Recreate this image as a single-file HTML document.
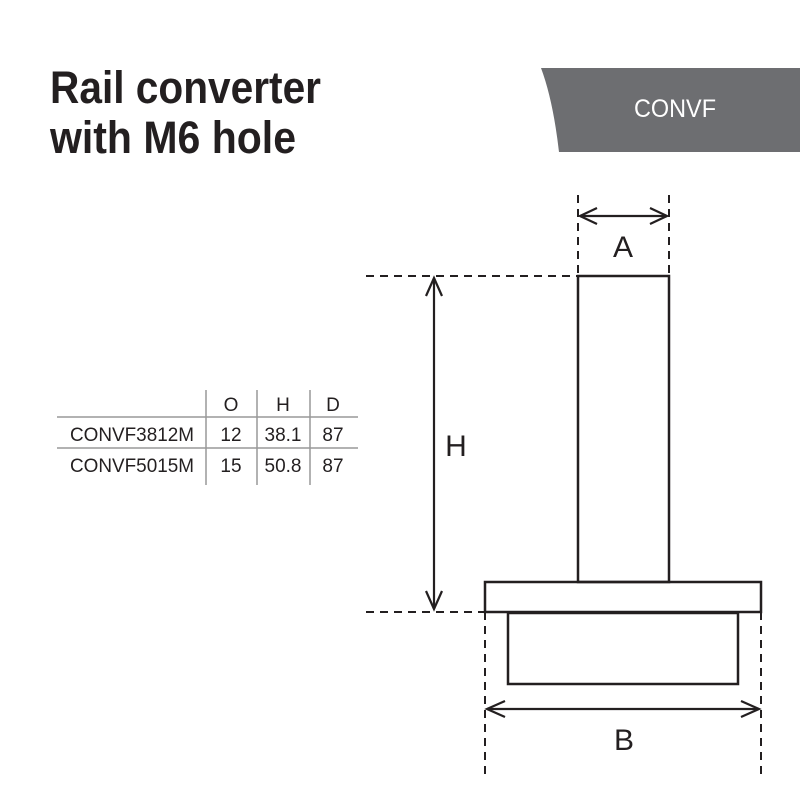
<!DOCTYPE html>
<html><head><meta charset="utf-8"><style>
html,body{margin:0;padding:0;background:#fff;}
svg{display:block;}
text{font-family:"Liberation Sans",sans-serif;}
</style></head><body>
<svg width="800" height="800" viewBox="0 0 800 800" xmlns="http://www.w3.org/2000/svg">
<text x="50" y="103" font-size="45" font-weight="bold" fill="#231f20" textLength="271" lengthAdjust="spacingAndGlyphs">Rail converter</text>
<text x="50" y="153" font-size="45" font-weight="bold" fill="#231f20" textLength="246" lengthAdjust="spacingAndGlyphs">with M6 hole</text>
<path d="M541 68 L800 68 L800 152 L559 152 Q553 100 541 68 Z" fill="#6d6e71"/>
<text x="675" y="117" font-size="25" fill="#fff" text-anchor="middle" textLength="82" lengthAdjust="spacingAndGlyphs">CONVF</text>
<!-- table -->
<g stroke="#999" stroke-width="1.5">
<line x1="57" y1="417" x2="358" y2="417"/>
<line x1="57" y1="448" x2="358" y2="448"/>
<line x1="206" y1="390" x2="206" y2="485"/>
<line x1="257" y1="390" x2="257" y2="485"/>
<line x1="310" y1="390" x2="310" y2="485"/>
</g>
<g font-size="19" fill="#231f20" text-anchor="middle">
<text x="231" y="411">O</text><text x="283" y="411">H</text><text x="333" y="411">D</text>
<text x="132" y="441" textLength="124" lengthAdjust="spacingAndGlyphs">CONVF3812M</text>
<text x="231" y="441">12</text><text x="283" y="441">38.1</text><text x="333" y="441">87</text>
<text x="132" y="472" textLength="124" lengthAdjust="spacingAndGlyphs">CONVF5015M</text>
<text x="231" y="472">15</text><text x="283" y="472">50.8</text><text x="333" y="472">87</text>
</g>
<!-- drawing -->
<g stroke="#231f20" stroke-width="2.5" fill="none">
<rect x="578" y="276" width="91" height="306"/>
<rect x="485" y="582" width="276" height="30"/>
<rect x="508" y="613" width="230" height="71"/>
</g>
<g stroke="#231f20" stroke-width="2" fill="none" stroke-dasharray="8,6">
<line x1="578" y1="195" x2="578" y2="274"/>
<line x1="669" y1="195" x2="669" y2="274"/>
<line x1="366" y1="276" x2="577" y2="276"/>
<line x1="366" y1="612" x2="484" y2="612"/>
<line x1="485" y1="612" x2="485" y2="778"/>
<line x1="761" y1="612" x2="761" y2="778"/>
</g>
<g stroke="#231f20" stroke-width="2.2" fill="none">
<line x1="580" y1="216" x2="667" y2="216"/>
<polyline points="597,208 580,216 597,224"/>
<polyline points="650,208 667,216 650,224"/>
<line x1="487" y1="709" x2="759" y2="709"/>
<polyline points="505,701 487,709 505,717"/>
<polyline points="741,701 759,709 741,717"/>
<line x1="434" y1="278" x2="434" y2="609"/>
<polyline points="426,296 434,278 442,296"/>
<polyline points="426,591 434,609 442,591"/>
</g>
<g font-size="30" fill="#231f20" text-anchor="middle">
<text x="623" y="257">A</text>
<text x="456" y="456">H</text>
<text x="624" y="750">B</text>
</g>
</svg>
</body></html>
